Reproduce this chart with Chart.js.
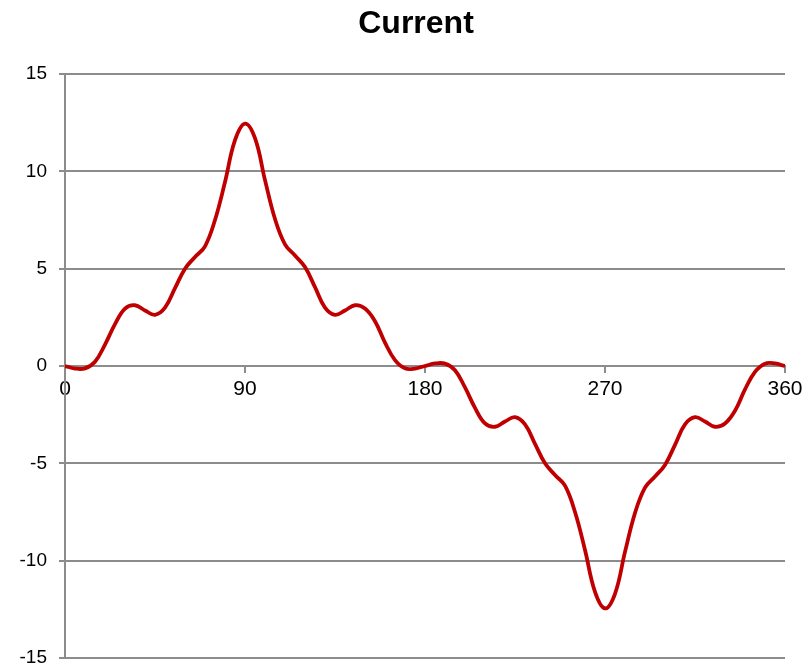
<!DOCTYPE html>
<html>
<head>
<meta charset="utf-8">
<title>Current</title>
<script src="https://cdn.jsdelivr.net/npm/chart.js@4.4.1/dist/chart.umd.min.js"></script>
<style>
  html, body { margin: 0; padding: 0; background: #ffffff; }
  #wrap { position: relative; width: 806px; height: 667px; }
</style>
</head>
<body>
<div id="wrap"><canvas id="chart"></canvas></div>
<script>
// Phase angle in degrees
const angles = [
  0, 5, 10, 15, 20, 25, 30, 35, 40, 45, 50, 55, 60, 65, 70, 75, 80, 85,
  90, 95, 100, 105, 110, 115, 120, 125, 130, 135, 140, 145, 150, 155, 160, 165, 170, 175,
  180, 185, 190, 195, 200, 205, 210, 215, 220, 225, 230, 235, 240, 245, 250, 255, 260, 265,
  270, 275, 280, 285, 290, 295, 300, 305, 310, 315, 320, 325, 330, 335, 340, 345, 350, 355,
  360
];

// Current waveform samples
const current = [
  0, -0.13, -0.12, 0.22, 1.1, 2.15, 2.95, 3.12, 2.85, 2.63, 3.0, 4.0, 5.0, 5.6, 6.15, 7.5, 9.45, 11.6,
  12.45, 11.7, 9.55, 7.55, 6.25, 5.68, 5.08, 4.05, 3.0, 2.63, 2.85, 3.12, 2.95, 2.3, 1.2, 0.3, -0.12, -0.13,
  0, 0.13, 0.12, -0.22, -1.1, -2.15, -2.95, -3.12, -2.85, -2.63, -3.0, -4.0, -5.0, -5.6, -6.15, -7.5, -9.45, -11.6,
  -12.45, -11.7, -9.55, -7.55, -6.25, -5.68, -5.08, -4.05, -3.0, -2.63, -2.85, -3.12, -2.95, -2.3, -1.2, -0.3, 0.12, 0.13,
  0
];

const titleText = 'Current';
const xTicks = [0, 90, 180, 270, 360];
const yTicks = [-15, -10, -5, 0, 5, 10, 15];

const gridGray = '#8c8c8c';
const fontFamily = '"Liberation Sans", Arial, Helvetica, sans-serif';

// Draws the bold chart heading above the plot
const headingPlugin = {
  id: 'heading',
  afterDraw(chart) {
    const ctx = chart.ctx;
    ctx.save();
    ctx.font = 'bold 32px ' + fontFamily;
    ctx.fillStyle = '#000000';
    ctx.textAlign = 'center';
    ctx.textBaseline = 'alphabetic';
    ctx.fillText(titleText, 416, 33);
    ctx.restore();
  }
};

new Chart(document.getElementById('chart'), {
  type: 'line',
  data: {
    datasets: [{
      label: titleText,
      data: angles.map((a, i) => ({ x: a, y: current[i] })),
      borderColor: '#c00000',
      borderWidth: 3.8,
      pointRadius: 0,
      tension: 0.4,
      fill: false
    }]
  },
  options: {
    responsive: true,
    maintainAspectRatio: false,
    animation: false,
    layout: { padding: { top: 74, right: 21, bottom: 9, left: 0 } },
    plugins: {
      legend: { display: false },
      title: { display: false },
      tooltip: { enabled: false }
    },
    scales: {
      x: {
        type: 'linear',
        position: { y: 0 },
        min: xTicks[0],
        max: xTicks[xTicks.length - 1],
        afterBuildTicks: s => { s.ticks = xTicks.map(v => ({ value: v })); },
        afterFit: s => {
          s.height = 0;
          s.paddingLeft = 0; s.paddingRight = 0; s.paddingTop = 0; s.paddingBottom = 0;
        },
        ticks: {
          color: '#000000',
          font: { family: fontFamily, size: 21 },
          padding: 5,
          maxRotation: 0,
          autoSkip: false
        },
        grid: {
          drawOnChartArea: false,
          drawTicks: true,
          tickLength: 6,
          color: gridGray,
          lineWidth: 2
        },
        border: { display: true, color: gridGray, width: 2 }
      },
      y: {
        type: 'linear',
        position: 'left',
        min: yTicks[0],
        max: yTicks[yTicks.length - 1],
        afterBuildTicks: s => { s.ticks = yTicks.map(v => ({ value: v })); },
        afterFit: s => {
          s.width = 65;
          s.paddingTop = 0; s.paddingBottom = 0;
        },
        ticks: {
          color: '#000000',
          font: { family: fontFamily, size: 19 },
          padding: 12
        },
        grid: {
          drawOnChartArea: true,
          drawTicks: true,
          tickLength: 6,
          color: gridGray,
          lineWidth: 2
        },
        border: { display: true, color: gridGray, width: 2 }
      }
    }
  },
  plugins: [headingPlugin]
});
</script>
</body>
</html>
